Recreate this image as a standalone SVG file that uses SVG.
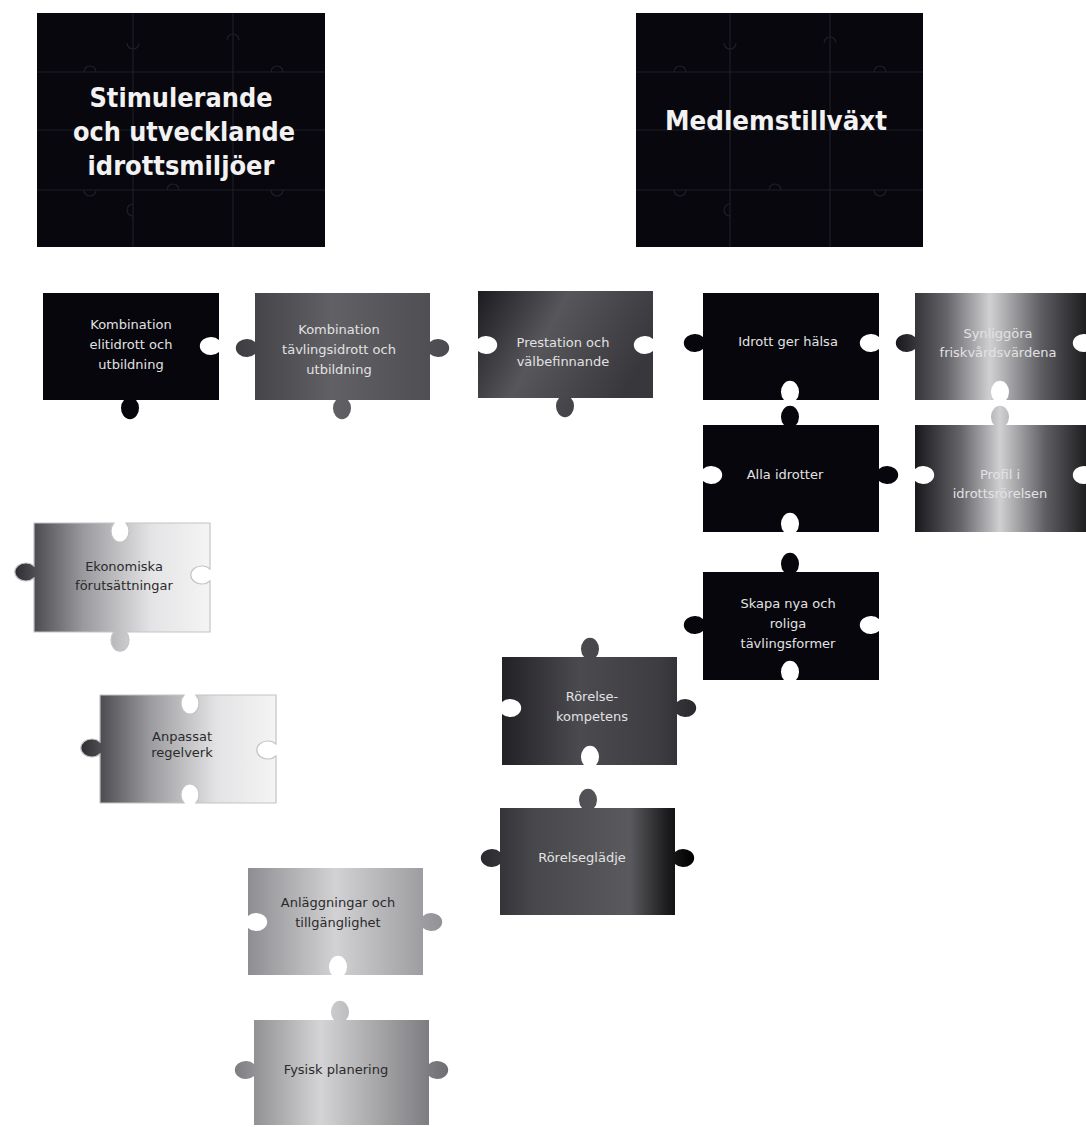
<svg xmlns="http://www.w3.org/2000/svg" width="1086" height="1127" viewBox="0 0 1086 1127">
<style>
.big{fill:#07070d;}
.grid{stroke:#1f1f29;stroke-width:1.2;fill:none;}
.title{font-family:"DejaVu Sans Condensed","DejaVu Sans",sans-serif;font-weight:bold;font-size:27px;fill:#f2f2f2;text-anchor:middle;}
.lbl{font-family:"DejaVu Sans","Open Sans",sans-serif;font-size:13px;text-anchor:middle;}
.w{fill:#e2e2e2;}
.d{fill:#2a2a2a;}
.black{fill:#06060c;}
</style>
<defs>
<linearGradient id="g2" x1="0" y1="0" x2="1" y2="0"><stop offset="0" stop-color="#3e3e42"/><stop offset="0.45" stop-color="#616165"/><stop offset="1" stop-color="#4c4c50"/></linearGradient>
<linearGradient id="g3" x1="0" y1="0" x2="1" y2="0.4"><stop offset="0" stop-color="#1c1c20"/><stop offset="0.45" stop-color="#56565b"/><stop offset="1" stop-color="#38383c"/></linearGradient>
<linearGradient id="gsh" x1="0" y1="0" x2="1" y2="0"><stop offset="0" stop-color="#18181c"/><stop offset="0.26" stop-color="#66666a"/><stop offset="0.48" stop-color="#d0d0d3"/><stop offset="0.74" stop-color="#5e5e62"/><stop offset="1" stop-color="#151518"/></linearGradient>
<linearGradient id="g9" x1="0" y1="0" x2="1" y2="0"><stop offset="0" stop-color="#222226"/><stop offset="0.4" stop-color="#4a4a4f"/><stop offset="0.8" stop-color="#3e3e42"/><stop offset="1" stop-color="#2a2a2e"/></linearGradient>
<linearGradient id="g10" x1="0" y1="0" x2="1" y2="0"><stop offset="0" stop-color="#2a2a2e"/><stop offset="0.25" stop-color="#48484c"/><stop offset="0.7" stop-color="#5a5a5e"/><stop offset="0.88" stop-color="#1a1a1c"/><stop offset="1" stop-color="#000"/></linearGradient>
<linearGradient id="g11" x1="0" y1="0" x2="1" y2="0"><stop offset="0" stop-color="#2e2e32"/><stop offset="0.35" stop-color="#9a9a9e"/><stop offset="0.7" stop-color="#e4e4e6"/><stop offset="1" stop-color="#f4f4f4"/></linearGradient>
<linearGradient id="g13" x1="0" y1="0" x2="1" y2="0"><stop offset="0" stop-color="#8e8e92"/><stop offset="0.45" stop-color="#d2d2d4"/><stop offset="1" stop-color="#929296"/></linearGradient>
<linearGradient id="g14" x1="0" y1="0" x2="1" y2="0"><stop offset="0" stop-color="#7e7e82"/><stop offset="0.4" stop-color="#d4d4d6"/><stop offset="1" stop-color="#6e6e72"/></linearGradient>
</defs>
<rect width="1086" height="1127" fill="#ffffff"/>

<g id="box-stimulerande">
<rect class="big" x="37" y="13" width="288" height="234"/>
<path class="grid" d="M133,13 V247 M233,13 V247 M37,72 H325 M37,130 H325 M37,190 H325 M127,43 a6,6 0 1,0 12,0 M227,40 a6,6 0 1,1 12,0 M84,72 a6,6 0 1,1 12,0 M271,72 a6,6 0 1,1 12,0 M84,190 a6,6 0 1,0 12,0 M167,190 a6,6 0 1,1 12,0 M271,190 a6,6 0 1,0 12,0 M133,204 a6,6 0 1,0 0,12"/>
<text class="title" x="181" y="107" textLength="183" lengthAdjust="spacingAndGlyphs">Stimulerande</text>
<text class="title" x="184" y="141" textLength="222" lengthAdjust="spacingAndGlyphs">och utvecklande</text>
<text class="title" x="181" y="175" textLength="187" lengthAdjust="spacingAndGlyphs">idrottsmiljöer</text>
</g>

<g id="box-medlemstillvaxt">
<rect class="big" x="636" y="13" width="287" height="234"/>
<path class="grid" d="M730,13 V247 M830,13 V247 M636,72 H923 M636,130 H923 M636,190 H923 M724,43 a6,6 0 1,0 12,0 M824,43 a6,6 0 1,1 12,0 M674,72 a6,6 0 1,1 12,0 M874,72 a6,6 0 1,1 12,0 M674,190 a6,6 0 1,0 12,0 M769,190 a6,6 0 1,1 12,0 M874,190 a6,6 0 1,0 12,0 M730,204 a6,6 0 1,0 0,12"/>
<text class="title" x="776" y="130" textLength="222" lengthAdjust="spacingAndGlyphs">Medlemstillväxt</text>
</g>

<g id="p-elitidrott">
<path class="black" d="M43,293 H219 V340 A11,9 0 1,0 219,352 V400 H136 A9,11 0 1,1 124,400 H43 Z"/>
<text class="lbl w" x="131"><tspan x="131" y="329">Kombination</tspan><tspan x="131" y="349">elitidrott och</tspan><tspan x="131" y="369">utbildning</tspan></text>
</g>

<g id="p-tavlingsidrott">
<path fill="url(#g2)" d="M255,293 H430 V342 A11,9 0 1,1 430,354 V400 H348 A9,11 0 1,1 336,400 H255 V354 A11,9 0 1,1 255,342 Z"/>
<text class="lbl w" x="339"><tspan x="339" y="334">Kombination</tspan><tspan x="339" y="354">tävlingsidrott och</tspan><tspan x="339" y="374">utbildning</tspan></text>
</g>

<g id="p-prestation">
<path fill="url(#g3)" d="M478,291 H653 V339 A11,9 0 1,0 653,351 V398 H571 A9,11 0 1,1 559,398 H478 V351 A11,9 0 1,0 478,339 Z"/>
<text class="lbl w" x="563"><tspan x="563" y="347">Prestation och</tspan><tspan x="563" y="366">välbefinnande</tspan></text>
</g>

<g id="p-halsa">
<path class="black" d="M703,293 H879 V337 A11,9 0 1,0 879,349 V400 H796 A9,11 0 1,0 784,400 H703 V349 A11,9 0 1,1 703,337 Z"/>
<text class="lbl w" x="788" y="346">Idrott ger hälsa</text>
</g>

<g id="p-friskvard">
<path fill="url(#gsh)" d="M915,293 H1092 V337 A11,9 0 1,0 1092,349 V400 H1006 A9,11 0 1,0 994,400 H915 V349 A11,9 0 1,1 915,337 Z"/>
<text class="lbl w" x="998"><tspan x="998" y="338">Synliggöra</tspan><tspan x="998" y="357">friskvårdsvärdena</tspan></text>
</g>

<g id="p-alla">
<path class="black" d="M703,425 H784 A9,11 0 1,1 796,425 H879 V469 A11,9 0 1,1 879,481 V532 H796 A9,11 0 1,0 784,532 H703 V481 A11,9 0 1,0 703,469 Z"/>
<text class="lbl w" x="785" y="479">Alla idrotter</text>
</g>

<g id="p-profil">
<path fill="url(#gsh)" d="M915,425 H994 A9,11 0 1,1 1006,425 H1092 V469 A11,9 0 1,0 1092,481 V532 H915 V481 A11,9 0 1,0 915,469 Z"/>
<text class="lbl w" x="1000"><tspan x="1000" y="479">Profil i</tspan><tspan x="1000" y="498">idrottsrörelsen</tspan></text>
</g>

<g id="p-tavlingsformer">
<path class="black" d="M703,572 H784 A9,11 0 1,1 796,572 H879 V619 A11,9 0 1,0 879,631 V680 H796 A9,11 0 1,0 784,680 H703 V631 A11,9 0 1,1 703,619 Z"/>
<text class="lbl w" x="788"><tspan x="788" y="608">Skapa nya och</tspan><tspan x="788" y="628">roliga</tspan><tspan x="788" y="648">tävlingsformer</tspan></text>
</g>

<g id="p-rorelsekompetens">
<path fill="url(#g9)" d="M502,657 H584 A9,11 0 1,1 596,657 H677 V702 A11,9 0 1,1 677,714 V765 H596 A9,11 0 1,0 584,765 H502 V714 A11,9 0 1,0 502,702 Z"/>
<text class="lbl w" x="592"><tspan x="592" y="701">Rörelse-</tspan><tspan x="592" y="721">kompetens</tspan></text>
</g>

<g id="p-rorelseglädje">
<path fill="url(#g10)" d="M500,808 H582 A9,11 0 1,1 594,808 H675 V852 A11,9 0 1,1 675,864 V915 H500 V864 A11,9 0 1,1 500,852 Z"/>
<text class="lbl w" x="582" y="862">Rörelseglädje</text>
</g>

<g id="p-ekonomiska">
<path fill="url(#g11)" stroke="#c4c4c6" stroke-width="1.2" d="M34,523 H114 A9,11 0 1,0 126,523 H210 V569 A11,9 0 1,0 210,581 V632 H126 A9,11 0 1,1 114,632 H34 V578 A11,9 0 1,1 34,566 Z"/>
<text class="lbl d" x="124"><tspan x="124" y="571">Ekonomiska</tspan><tspan x="124" y="590">förutsättningar</tspan></text>
</g>

<g id="p-regelverk">
<path fill="url(#g11)" stroke="#c4c4c6" stroke-width="1.2" d="M100,695 H184 A9,11 0 1,0 196,695 H276 V744 A11,9 0 1,0 276,756 V803 H196 A9,11 0 1,0 184,803 H100 V754 A11,9 0 1,1 100,742 Z"/>
<text class="lbl d" x="182"><tspan x="182" y="741">Anpassat</tspan><tspan x="182" y="757">regelverk</tspan></text>
</g>

<g id="p-anlaggningar">
<path fill="url(#g13)" d="M248,868 H423 V916 A11,9 0 1,1 423,928 V975 H344 A9,11 0 1,0 332,975 H248 V928 A11,9 0 1,0 248,916 Z"/>
<text class="lbl d" x="338"><tspan x="338" y="907">Anläggningar och</tspan><tspan x="338" y="927">tillgänglighet</tspan></text>
</g>

<g id="p-fysisk">
<path fill="url(#g14)" d="M254,1020 H334 A9,11 0 1,1 346,1020 H429 V1064 A11,9 0 1,1 429,1076 V1125 H254 V1076 A11,9 0 1,1 254,1064 Z"/>
<text class="lbl d" x="336" y="1074">Fysisk planering</text>
</g>

<g id="connectors"/>
</svg>
